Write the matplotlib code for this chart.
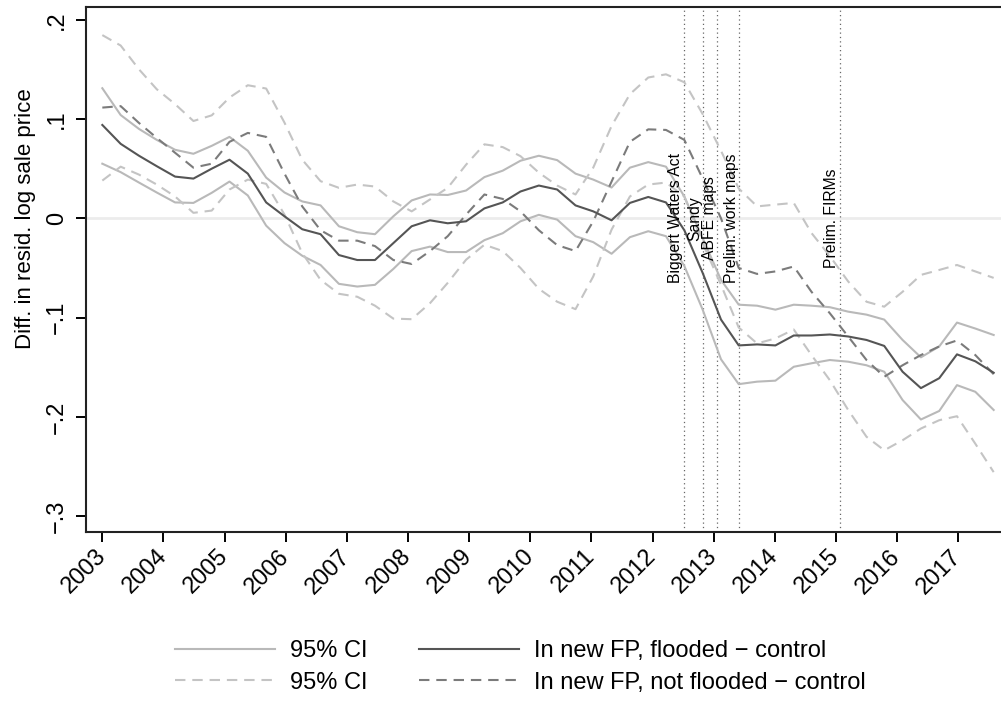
import matplotlib
matplotlib.use("Agg")
import matplotlib.pyplot as plt

plt.rcParams['font.family'] = ['Liberation Sans', 'DejaVu Sans']

# time grid (years)
x = [2003.00, 2003.30, 2003.60, 2003.89, 2004.19, 2004.49, 2004.79, 2005.08, 2005.38, 2005.68,
     2005.98, 2006.27, 2006.57, 2006.87, 2007.17, 2007.46, 2007.76, 2008.06, 2008.36, 2008.65,
     2008.95, 2009.25, 2009.55, 2009.84, 2010.14, 2010.44, 2010.74, 2011.03, 2011.33, 2011.63,
     2011.93, 2012.22, 2012.52, 2012.82, 2013.12, 2013.41, 2013.71, 2014.01, 2014.31, 2014.60,
     2014.90, 2015.20, 2015.50, 2015.79, 2016.09, 2016.39, 2016.69, 2016.98, 2017.28, 2017.58]

# In new FP, flooded - control
flooded = [0.094, 0.075, 0.063, 0.0525, 0.042, 0.040, 0.050, 0.059, 0.045, 0.016,
           0.002, -0.011, -0.016, -0.037, -0.042, -0.042, -0.025, -0.008, -0.002, -0.005,
           -0.003, 0.010, 0.016, 0.027, 0.033, 0.029, 0.013, 0.007, -0.002, 0.0155,
           0.0215, 0.016, -0.012, -0.055, -0.102, -0.128, -0.127, -0.128, -0.118, -0.118,
           -0.117, -0.119, -0.1225, -0.1285, -0.1545, -0.171, -0.161, -0.137, -0.144, -0.1555]
flooded_hi = [0.131, 0.104, 0.090, 0.079, 0.069, 0.065, 0.073, 0.082, 0.068, 0.041,
              0.026, 0.017, 0.013, -0.008, -0.014, -0.016, 0.002, 0.018, 0.024, 0.0235,
              0.028, 0.0415, 0.048, 0.058, 0.063, 0.0586, 0.045, 0.039, 0.031, 0.051,
              0.0566, 0.052, 0.022, -0.020, -0.062, -0.087, -0.088, -0.092, -0.087, -0.088,
              -0.0895, -0.094, -0.097, -0.102, -0.1225, -0.140, -0.129, -0.105, -0.111, -0.1175]
flooded_lo = [0.055, 0.0465, 0.036, 0.026, 0.016, 0.0155, 0.0257, 0.037, 0.023, -0.0074,
              -0.025, -0.0377, -0.047, -0.066, -0.0687, -0.067, -0.051, -0.033, -0.0285, -0.034,
              -0.034, -0.022, -0.015, -0.003, 0.0035, -0.0013, -0.018, -0.024, -0.0357, -0.019,
              -0.013, -0.018, -0.048, -0.092, -0.142, -0.167, -0.1645, -0.1635, -0.1495, -0.146,
              -0.1427, -0.1444, -0.148, -0.1545, -0.183, -0.2026, -0.194, -0.168, -0.1747, -0.193]

# In new FP, not flooded - control
notflooded = [0.1115, 0.113, 0.096, 0.081, 0.066, 0.051, 0.055, 0.077, 0.086, 0.082,
              0.045, 0.012, -0.012, -0.0225, -0.0225, -0.028, -0.042, -0.046, -0.033, -0.018,
              0.0037, 0.024, 0.0195, 0.007, -0.012, -0.027, -0.033, -0.003, 0.037, 0.077,
              0.0896, 0.089, 0.079, 0.040, 0.000, -0.050, -0.056, -0.0535, -0.0485, -0.074,
              -0.0956, -0.119, -0.1427, -0.1596, -0.148, -0.1377, -0.129, -0.123, -0.1377, -0.157]
notflooded_hi = [0.1845, 0.174, 0.150, 0.130, 0.115, 0.098, 0.1037, 0.1216, 0.134, 0.1307,
                 0.0963, 0.059, 0.0374, 0.0307, 0.034, 0.032, 0.017, 0.007, 0.019, 0.0307,
                 0.054, 0.0745, 0.0717, 0.0626, 0.046, 0.033, 0.024, 0.051, 0.093, 0.125,
                 0.1418, 0.145, 0.137, 0.105, 0.068, 0.030, 0.012, 0.0138, 0.0155, -0.0148,
                 -0.038, -0.0636, -0.084, -0.089, -0.074, -0.057, -0.052, -0.047, -0.0535, -0.060]
notflooded_lo = [0.038, 0.052, 0.044, 0.034, 0.022, 0.0055, 0.0078, 0.029, 0.039, 0.0347,
                 0.0037, -0.035, -0.062, -0.076, -0.079, -0.088, -0.101, -0.1016, -0.0855, -0.065,
                 -0.0417, -0.0266, -0.033, -0.050, -0.071, -0.084, -0.0915, -0.0586, -0.0114, 0.022,
                 0.034, 0.036, 0.022, -0.025, -0.067, -0.110, -0.126, -0.121, -0.112, -0.1377,
                 -0.163, -0.193, -0.220, -0.2336, -0.2235, -0.2117, -0.2033, -0.1993, -0.227, -0.2556]

# policy events
event_x = [2012.51, 2012.82, 2013.06, 2013.42, 2015.065]
event_labels = ["Biggert Waters Act", "Sandy", "ABFE maps", "Prelim. work maps", "Prelim. FIRMs"]

year_ticks = list(range(2003, 2018))
y_ticks = [0.2, 0.1, 0.0, -0.1, -0.2, -0.3]
y_ticklabels = [".2", ".1", "0", "\u2212.1", "\u2212.2", "\u2212.3"]

fig = plt.figure(figsize=(10.01, 7.07), dpi=100)
ax = fig.add_axes([86 / 1001, 1 - 532.3 / 707, 1 - 86 / 1001, (532.3 - 6.7) / 707])

light_solid = '#b9b9b9'
light_dash = '#c4c4c4'
dark_solid = '#555555'
dark_dash = '#7b7b7b'
lw = 1.5

ax.axhline(0, color='#ececec', lw=2.0, zorder=1)
for ex in event_x:
    ax.axvline(ex, color='#666666', lw=0.9, linestyle=(0, (1, 2.5)), zorder=1)

h1, = ax.plot(x, flooded_hi, color=light_solid, lw=lw, zorder=2, label='95% CI')
ax.plot(x, flooded_lo, color=light_solid, lw=lw, zorder=2)
h2, = ax.plot(x, notflooded_hi, color=light_dash, lw=lw, dashes=(5, 3.3), zorder=2, label='95% CI')
ax.plot(x, notflooded_lo, color=light_dash, lw=lw, dashes=(5, 3.3), zorder=2)
h3, = ax.plot(x, flooded, color=dark_solid, lw=lw, zorder=4, label='In new FP, flooded \u2212 control')
h4, = ax.plot(x, notflooded, color=dark_dash, lw=lw, dashes=(5, 3.3), zorder=3,
              label='In new FP, not flooded \u2212 control')

for ex, lab in zip(event_x, event_labels):
    ax.text(ex - 0.01, 0.0, lab, rotation=90, ha='right', va='center', fontsize=11.3, color='black', zorder=5)

ax.set_xlim(2002.733, 2017.70)
ax.set_ylim(-0.3162, 0.2131)
ax.set_xticks(year_ticks)
ax.set_xticklabels([str(y) for y in year_ticks], rotation=45, ha='right', va='center',
                   rotation_mode='anchor', fontsize=17)
ax.set_yticks(y_ticks)
ax.set_yticklabels(y_ticklabels, rotation=90, va='center', fontsize=17)
ax.tick_params(axis='both', direction='out', length=7, width=1.4, color='black')
ax.tick_params(axis='x', pad=8)
ax.tick_params(axis='y', pad=6)

for s in ['left', 'bottom', 'top']:
    ax.spines[s].set_linewidth(1.5)
    ax.spines[s].set_color('#222222')
ax.spines['right'].set_visible(False)

ax.set_ylabel('Diff. in resid. log sale price', fontsize=16)
ax.yaxis.set_label_coords(-0.0546, 0.596)

fig.legend(handles=[h1, h2, h3, h4], loc='center', bbox_to_anchor=(0.5197, 0.0570), ncol=2,
           frameon=False, fontsize=17, handlelength=4.24, handletextpad=0.64,
           columnspacing=2.16, labelspacing=0.41, borderpad=0.2)

fig.savefig('out.png', dpi=100)
